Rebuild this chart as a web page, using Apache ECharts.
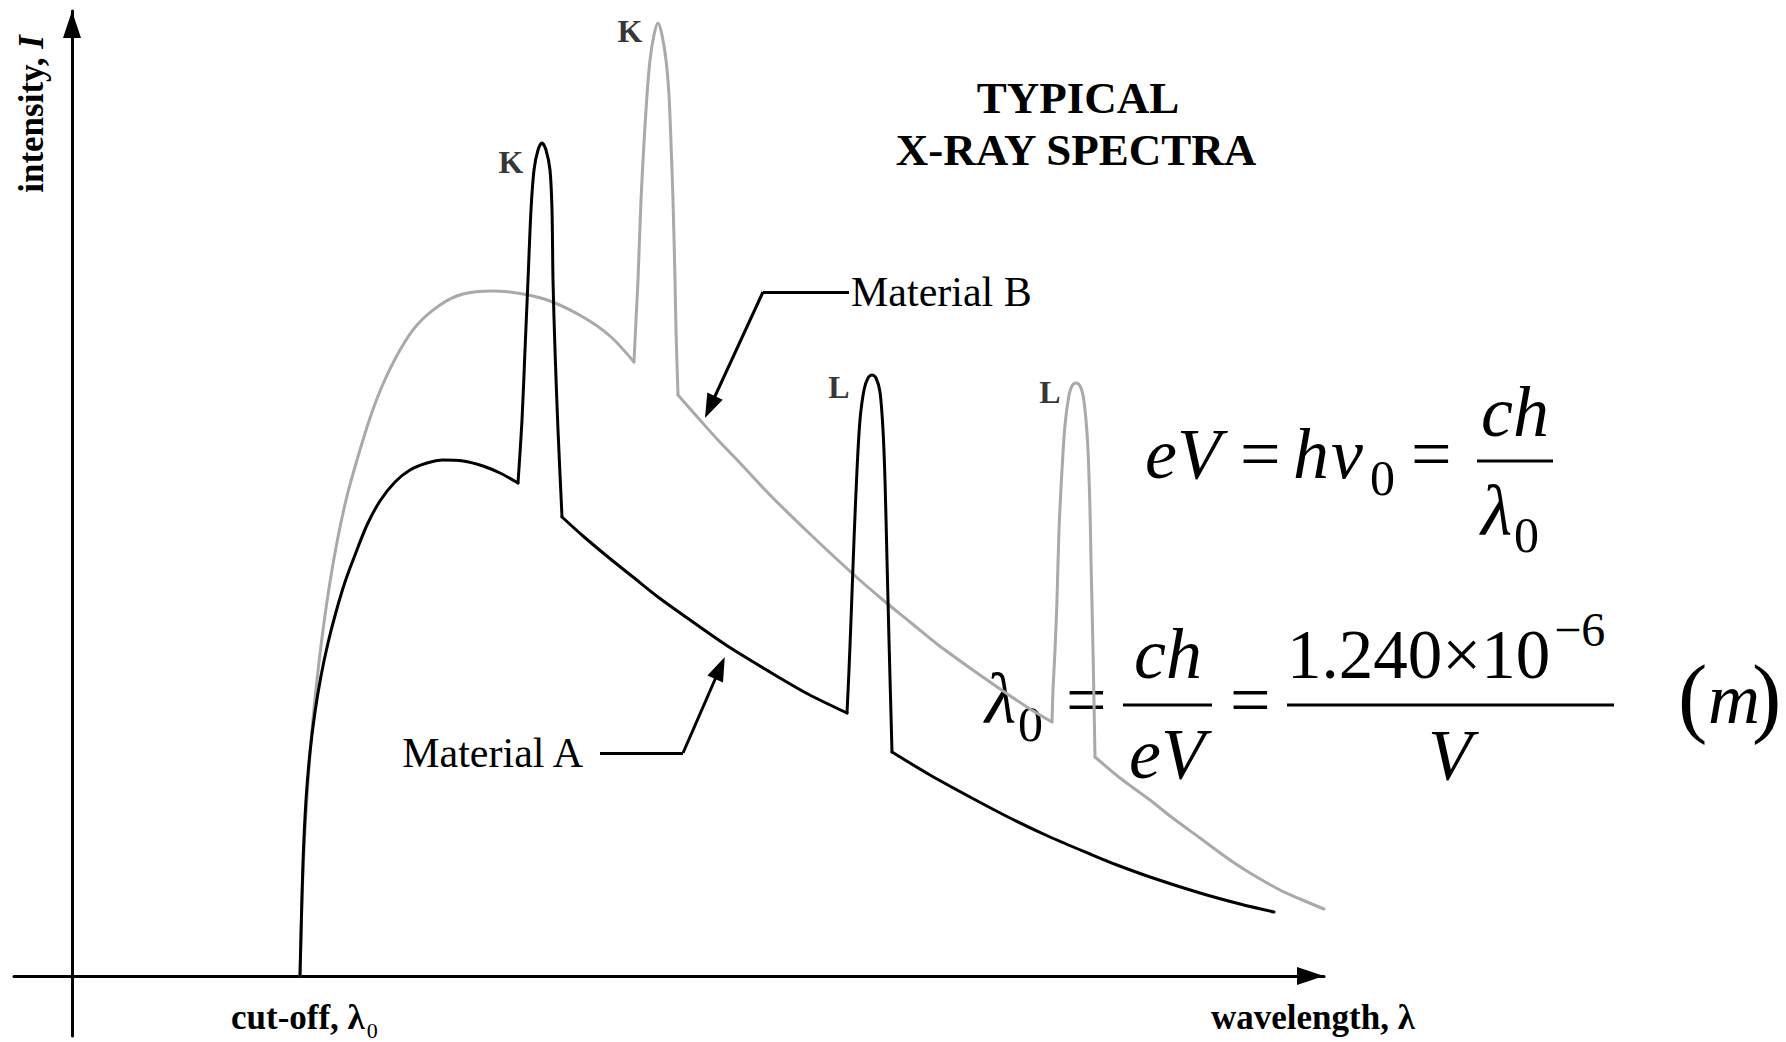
<!DOCTYPE html>
<html>
<head>
<meta charset="utf-8">
<title>Typical X-ray spectra</title>
<script src="https://cdn.jsdelivr.net/npm/echarts@6/dist/echarts.min.js"></script>
<style>
  html, body { margin: 0; padding: 0; background: #ffffff; }
  #chart { width: 1786px; height: 1042px; }
</style>
</head>
<body>
<div id="chart"></div>
<script>
// Wavelength (x) and intensity (y) in arbitrary units.
const cutoff = 22.8;

// Material A: continuum with its K and L characteristic lines
const materialA = [
  [22.8, 0], [22.9, 4.1], [23.1, 11.4], [23.4, 17.6], [23.8, 22.4], [24.3, 26.4], [24.9, 30.0],
  [25.6, 33.3], [26.4, 36.4], [27.3, 39.4], [28.3, 42.1], [29.5, 45.1], [30.8, 47.5], [32.3, 49.4],
  [33.8, 50.6], [35.5, 51.3], [37.1, 51.6], [39.1, 51.5], [41.1, 51.0], [42.8, 50.3], [44.6, 49.3],
  [45.0, 55.6], [45.3, 62.6], [45.6, 69.6], [45.9, 76.6], [46.2, 80.6], [46.6, 82.6], [47.0, 83.3],
  [47.4, 82.6], [47.8, 80.6], [48.0, 76.6], [48.1, 69.6], [48.3, 62.6], [48.6, 54.6], [49.0, 45.9],
  [51.1, 44.0], [53.6, 41.9], [56.1, 39.9], [58.6, 37.9], [61.1, 36.1], [65.4, 33.1], [69.8, 30.4],
  [73.6, 28.2], [77.5, 26.3],
  [77.7, 30.6], [77.9, 35.6], [78.2, 43.6], [78.5, 50.6], [78.8, 55.6], [79.2, 58.6], [79.6, 59.8],
  [80.0, 60.1], [80.4, 59.8], [80.8, 58.4], [81.1, 54.6], [81.3, 49.6], [81.5, 41.6], [81.7, 33.6],
  [82.0, 22.4],
  [85.8, 20.1], [89.8, 17.9], [93.8, 15.8], [97.8, 13.9], [101.8, 12.2], [104.5, 11.1], [108.1, 9.8],
  [112.8, 8.3], [116.8, 7.2], [120.2, 6.4]
];

// Material B: higher continuum, lines shifted to longer wavelengths
const materialB = [
  [22.8, 0], [22.9, 4.0], [23.05, 9.1], [23.3, 14.6], [23.6, 19.4], [24.0, 24.6], [24.5, 29.6],
  [25.1, 34.6], [25.8, 39.4], [26.6, 43.9], [27.5, 48.0], [28.5, 51.6], [29.8, 55.8], [31.1, 59.2],
  [32.8, 62.6], [34.5, 65.1], [36.8, 67.1], [39.1, 68.2], [42.1, 68.5], [45.1, 68.2], [47.8, 67.5],
  [51.1, 65.9], [53.8, 64.0], [56.2, 61.4],
  [56.4, 65.6], [56.6, 69.6], [56.9, 77.6], [57.2, 83.3], [57.5, 88.1], [57.8, 91.6], [58.2, 94.1],
  [58.6, 95.3], [59.0, 94.1], [59.4, 91.6], [59.7, 88.1], [59.9, 83.3], [60.1, 77.6], [60.3, 69.6],
  [60.4, 64.6], [60.6, 58.1],
  [62.8, 55.6], [64.5, 53.7], [66.8, 51.3], [69.8, 48.1], [73.8, 44.2], [78.1, 40.2], [81.1, 37.6],
  [83.8, 35.4], [86.5, 33.2], [89.8, 30.8], [93.1, 28.5], [95.8, 26.7], [98.0, 25.4],
  [98.1, 28.6], [98.3, 32.6], [98.5, 37.6], [98.7, 44.6], [99.0, 50.6], [99.3, 55.1], [99.7, 58.1],
  [100.0, 59.0], [100.4, 59.3], [100.8, 59.0], [101.1, 58.1], [101.4, 55.6], [101.6, 52.6],
  [101.8, 46.6], [101.9, 41.6], [102.1, 32.6], [102.3, 21.9],
  [104.8, 19.8], [107.8, 17.6], [109.8, 16.0], [112.8, 13.8], [115.8, 11.6], [117.8, 10.3],
  [120.8, 8.6], [122.8, 7.7], [125.2, 6.7]
];

// Wavelengths where each characteristic line leaves and rejoins the continuum
const edgesA = [44.6, 49.0, 77.5, 82.0];
const edgesB = [56.2, 60.6, 98.0, 102.3];

// Characteristic lines: name and peak wavelength
const linesA = [['K', 47.0], ['L', 80.0]];
const linesB = [['K', 58.6], ['L', 100.4]];

// Leader arrows for the series names (start, elbow, arrow head)
const arrowA = [[52.8, 22.3], [61.1, 22.3], [64.8, 30.8]];
const arrowB = [[77.7, 68.4], [69.1, 68.4], [63.8, 56.9]];

const xRange = [-5.8, 125.2];
const yRange = [-6, 96.5];

const SERIF = '"Liberation Serif", "Times New Roman", serif';
const MID = 0.34;  // em-middle above the baseline

const measureCtx = document.createElement('canvas').getContext('2d');
function textWidth(text, font) {
  measureCtx.font = font;
  return measureCtx.measureText(text).width;
}
function font(style, size) {
  return (style ? style + ' ' : '') + size + 'px ' + SERIF;
}
// Text element placed by its baseline
function text(str, x, base, style, size, align) {
  const a = align || 'left';
  return {
    type: 'text', x: x, y: base - MID * size, silent: true,
    style: {
      text: str, font: font(style, size), fill: '#000',
      align: a, textAlign: a, verticalAlign: 'middle', textVerticalAlign: 'middle'
    }
  };
}
function bar(x1, x2, y) {
  return {
    type: 'line', silent: true,
    shape: { x1: x1, y1: y, x2: x2, y2: y },
    style: { stroke: '#000', lineWidth: 3 }
  };
}

// Cut a spectrum into smooth pieces that meet at sharp corners
function splitAt(data, edges) {
  const pieces = [];
  let cur = [];
  data.forEach(function (p) {
    cur.push(p);
    if (edges.indexOf(p[0]) >= 0) {
      pieces.push(cur);
      cur = [p];
    }
  });
  if (cur.length > 1) pieces.push(cur);
  return pieces;
}

function peakLabels(data, lines, offsets) {
  return lines.map(function (ln, i) {
    const pt = data.find(function (p) { return p[0] === ln[1]; });
    return { name: ln[0], value: pt, label: { offset: offsets[i] } };
  });
}

function leader(pts, name, distance) {
  return {
    silent: true,
    animation: false,
    symbol: ['none', 'none'],
    lineStyle: { color: '#000', width: 3, type: 'solid' },
    label: { show: false },
    emphasis: { disabled: true },
    data: [
      [
        {
          coord: pts[0], name: name,
          label: {
            show: true, position: 'start', formatter: '{b}', distance: distance,
            color: '#000', fontFamily: SERIF, fontSize: 42
          }
        },
        { coord: pts[1] }
      ],
      [
        { coord: pts[1], symbol: 'none', label: { show: false } },
        { coord: pts[2], symbol: 'triangle', symbolSize: [17, 24] }
      ]
    ]
  };
}

function spectrumSeries(name, data, edges, color, z, arrow, labelGap) {
  return splitAt(data, edges).map(function (piece, i) {
    const s = {
      name: name, type: 'line', data: piece, showSymbol: false, symbol: 'none',
      smooth: 0.3, clip: false, silent: true, z: z,
      lineStyle: { color: color, width: 3, join: 'round', cap: 'round' }
    };
    if (i === 0) s.markLine = leader(arrow, name, labelGap);
    return s;
  });
}

const chart = echarts.init(document.getElementById('chart'), null, { renderer: 'svg' });

// Formula block and axis captions
const numSize = 69;
const numText = '1.240\u00d710';
const numLeft = 1287;
const cutText = 'cut-off, \u03bb';
const cutLeft = 231;

const graphics = [
  text('TYPICAL', 1078, 98 + MID * 45, 'bold', 45, 'center'),
  text('X-RAY SPECTRA', 1076, 150 + MID * 45, 'bold', 45, 'center'),

  // eV = h nu0 = ch / lambda0
  text('eV', 1145, 478, 'italic', 72),
  text('=', 1240, 478, '', 72),
  text('h', 1293, 478, 'italic', 72),
  text('\u03bd', 1331, 478, 'italic', 72),
  text('0', 1370, 495, '', 50),
  text('=', 1411, 478, '', 72),
  text('ch', 1515, 436, 'italic', 72, 'center'),
  bar(1477, 1553, 461),
  text('\u03bb', 1481, 535, 'italic', 72),
  text('0', 1514, 552, '', 50),

  // lambda0 = ch / eV = 1.240e-6 / V (m)
  text('\u03bb', 985, 723, 'italic', 72),
  text('0', 1018, 741, '', 50),
  text('=', 1066, 724, '', 72),
  text('ch', 1168, 678, 'italic', 72, 'center'),
  bar(1123, 1212, 705),
  text('eV', 1167, 778, 'italic', 72, 'center'),
  text('=', 1230, 724, '', 72),
  text(numText, numLeft, 678, '', numSize),
  text('\u22126', numLeft + textWidth(numText, font('', numSize)) + 4, 646, '', 48),
  bar(1287, 1614, 705),
  text('V', 1450, 779, 'italic', 72, 'center'),
  text('(', 1678, 726, '', 88),
  text('m', 1708, 723, 'italic', 72),
  text(')', 1752, 726, '', 88),

  // axis captions
  text(cutText, cutLeft, 1029, 'bold', 35),
  text('0', cutLeft + textWidth(cutText, font('bold', 35)) + 2, 1038, '', 22),
  text('wavelength, \u03bb', 1211, 1029, 'bold', 35),
  {
    type: 'text', x: 31, y: 114, rotation: Math.PI / 2, silent: true,
    style: {
      text: '{a|intensity, }{b|I}',
      rich: {
        a: { font: font('bold', 35), fill: '#000' },
        b: { font: font('italic bold', 35), fill: '#000' }
      },
      fill: '#000', font: font('bold', 35),
      align: 'center', textAlign: 'center', verticalAlign: 'middle', textVerticalAlign: 'middle'
    }
  }
];

// Axes cross at the origin; the arrow heads sit just inside the axis ends
const axisLine = {
  show: true,
  onZero: true,
  symbol: ['none', 'triangle'],
  symbolSize: [18, 27],
  symbolOffset: [0, -13.5],
  lineStyle: { color: '#000', width: 3 }
};

const series = []
  .concat(spectrumSeries('Material B', materialB, edgesB, '#a9a9a9', 2, arrowB, 2))
  .concat(spectrumSeries('Material A', materialA, edgesA, '#000000', 3, arrowA, 17))
  .concat([{
    name: 'Characteristic lines', type: 'scatter', silent: true, clip: false, z: 4,
    symbol: 'circle', symbolSize: 1, itemStyle: { color: 'rgba(0,0,0,0)' },
    label: {
      show: true, position: 'inside', formatter: '{b}', color: '#000',
      fontFamily: SERIF, fontWeight: 'bold', fontSize: 32
    },
    data: peakLabels(materialA, linesA, [[-31, 19], [-33, 12]])
      .concat(peakLabels(materialB, linesB, [[-28, 8], [-26, 9]]))
  }]);

chart.setOption({
  animation: false,
  backgroundColor: '#ffffff',
  grid: { left: 14, right: 462, top: 11, bottom: 6, containLabel: false, outerBoundsMode: 'none' },
  xAxis: {
    type: 'value', min: xRange[0], max: xRange[1],
    axisLine: axisLine, axisTick: { show: false }, axisLabel: { show: false }, splitLine: { show: false }
  },
  yAxis: {
    type: 'value', min: yRange[0], max: yRange[1],
    axisLine: axisLine, axisTick: { show: false }, axisLabel: { show: false }, splitLine: { show: false }
  },
  series: series,
  graphic: { elements: graphics }
});
</script>
</body>
</html>
